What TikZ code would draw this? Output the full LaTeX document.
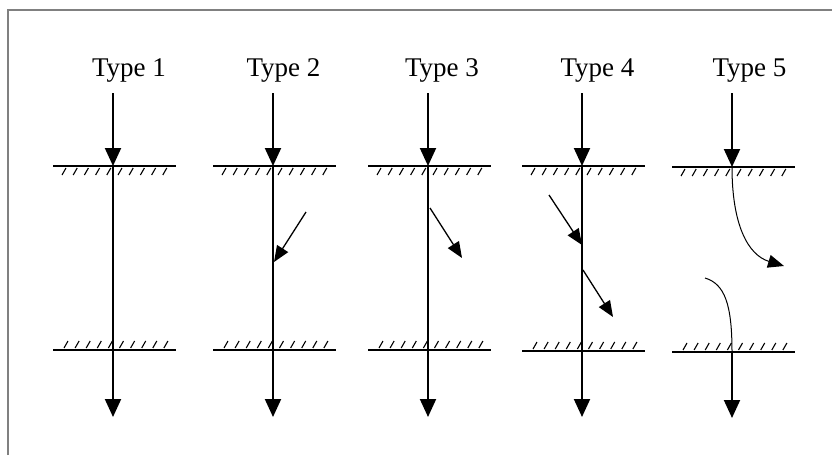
\documentclass[tikz,border=0pt]{standalone}
\usepackage{fontspec}
\setmainfont{Liberation Serif}
\usetikzlibrary{arrows.meta}
\begin{document}
\begin{tikzpicture}[x=1pt,y=-1pt,
  frame/.style={draw=black!50,line width=2pt},
  flow/.style={line width=2pt,-{Triangle[length=18pt,width=16pt]}},
  side/.style={line width=1.3pt,-{Triangle[length=16pt,width=13pt]}},
  bendline/.style={line width=1pt},
  bendarrow/.style={line width=1pt,-{Triangle[length=16pt,width=13pt]}},
  wall/.style={line width=2pt},
  hatchtick/.style={line width=1.1pt},
  typelabel/.style={font=\fontsize{27}{30}\selectfont,anchor=base,inner sep=0pt}]
\useasboundingbox (0,0) rectangle (832,455);
% frame (left and top edges)
\coordinate (fbl) at (8,455);
\coordinate (ftl) at (8,10);
\coordinate (ftr) at (832,10);
\draw[frame] (fbl) -- (ftl) -- (ftr);
% labels
\node[typelabel] (l1) at (129,76) {Type 1};
\node[typelabel] (l2) at (283.5,76) {Type 2};
\node[typelabel] (l3) at (442,76) {Type 3};
\node[typelabel] (l4) at (597.5,76) {Type 4};
\node[typelabel] (l5) at (749.5,76) {Type 5};
% walls with hatching
\foreach \c/\t/\b in {113/166/350, 273/166/350, 428/166/350, 582/166/351, 732/167/352} {
  \draw[wall] (\c-60,\t) -- (\c+63,\t);
  \foreach \i in {0,...,9}
    \draw[hatchtick] (\c-47+11.2*\i,\t+2) -- (\c-51+11.2*\i,\t+9);
  \draw[wall] (\c-60,\b) -- (\c+63,\b);
  \foreach \i in {0,...,9}
    \draw[hatchtick] (\c-45+11.1*\i,\b-9) -- (\c-49+11.1*\i,\b-2);
}
% type 1
\coordinate (a1) at (113,93);
\coordinate (b1) at (113,166);
\coordinate (c1) at (113,417);
\draw[flow] (a1) -- (b1);
\draw[flow] (b1) -- (c1);
% type 2
\coordinate (a2) at (273,93);
\coordinate (b2) at (273,166);
\coordinate (c2) at (273,417);
\draw[flow] (a2) -- (b2);
\draw[flow] (b2) -- (c2);
\coordinate (s2) at (306,212);
\coordinate (e2) at (274,262);
\draw[side] (s2) -- (e2);
% type 3
\coordinate (a3) at (428,93);
\coordinate (b3) at (428,166);
\coordinate (c3) at (428,417);
\draw[flow] (a3) -- (b3);
\draw[flow] (b3) -- (c3);
\coordinate (s3) at (430,208);
\coordinate (e3) at (462,258);
\draw[side] (s3) -- (e3);
% type 4
\coordinate (a4) at (582,93);
\coordinate (b4) at (582,166);
\coordinate (c4) at (582,417);
\draw[flow] (a4) -- (b4);
\draw[flow] (b4) -- (c4);
\coordinate (s4) at (549,195);
\coordinate (e4) at (582,245);
\draw[side] (s4) -- (e4);
\coordinate (s4b) at (583,270);
\coordinate (e4b) at (613,317);
\draw[side] (s4b) -- (e4b);
% type 5
\coordinate (a5) at (732,93);
\coordinate (b5) at (732,167);
\coordinate (d5) at (732,352);
\coordinate (c5) at (732,418);
\draw[flow] (a5) -- (b5);
\draw[flow] (d5) -- (c5);
\coordinate (e5) at (784,266);
\draw[bendarrow] (b5) .. controls (732,225) and (748,255) .. (e5);
\coordinate (s5) at (705,278);
\draw[bendline] (s5) .. controls (725,284) and (732,305) .. (d5);
\end{tikzpicture}
\end{document}
